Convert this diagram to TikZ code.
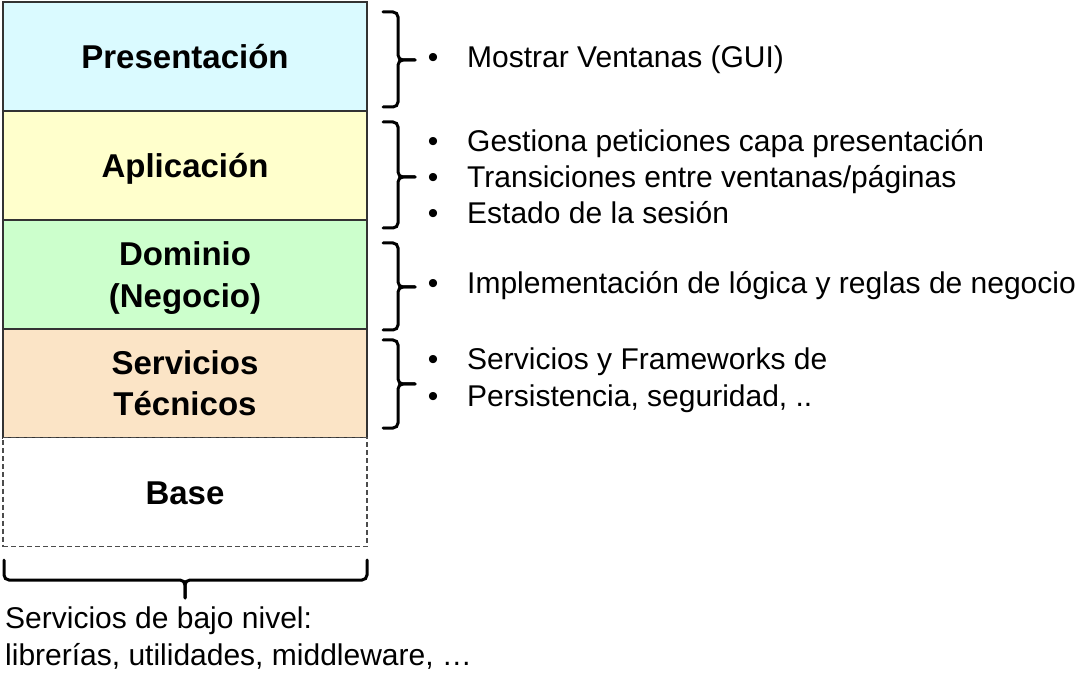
\documentclass[tikz,border=0pt]{standalone}
\usepackage{fontspec}
\setmainfont{Liberation Sans}
\begin{document}
\begin{tikzpicture}[x=1pt,y=-1pt,
  layer/.style={draw=black!80, line width=1.3pt, minimum width=364pt, minimum height=109pt, inner sep=0pt},
  baselayer/.style={layer, draw=black!70, dash pattern=on 5pt off 3pt, line width=1.1pt},
  lbl/.style={anchor=base, inner sep=0pt, font=\fontsize{33}{42}\selectfont\bfseries},
  item/.style={anchor=base west, inner sep=0pt, font=\fontsize{30}{36}\selectfont},
  bul/.style={anchor=base, inner sep=0pt, font=\fontsize{30}{36}\selectfont},
  bracestyle/.style={line width=3pt, line cap=round, rounded corners=5pt}]
\definecolor{cPres}{HTML}{DAFAFF}
\definecolor{cApp}{HTML}{FFFFCC}
\definecolor{cDom}{HTML}{CCFFCC}
\definecolor{cSrv}{HTML}{FBE4C6}
\useasboundingbox (0,0) rectangle (1077,676);
\node[layer, fill=cPres] (pres) at (185,56.5) {};
\node[layer, fill=cApp] (app) at (185,165.5) {};
\node[layer, fill=cDom] (dom) at (185,274.5) {};
\node[layer, fill=cSrv] (srv) at (185,383.5) {};
\node[baselayer, fill=white] (base) at (185,492) {};
\node[lbl] (lpres) at (185,69) {Presentación};
\node[lbl] (lapp) at (185,178) {Aplicación};
\node[lbl] (ldom1) at (185,266) {Dominio};
\node[lbl] (ldom2) at (185,308) {(Negocio)};
\node[lbl] (lsrv1) at (185,375) {Servicios};
\node[lbl] (lsrv2) at (185,416) {Técnicos};
\node[lbl] (lbase) at (185,504) {Base};
% right braces
\newcommand{\mybrace}[4]{%
  \draw[bracestyle] (#1,#2) -- (#1+15,#2) -- (#1+15,#4) -- (#1+32,#4);
  \draw[bracestyle] (#1+32,#4) -- (#1+15,#4) -- (#1+15,#3) -- (#1,#3);}
\mybrace{383}{12}{107}{60}
\mybrace{383}{122}{228}{177}
\mybrace{383}{243}{330}{287}
\mybrace{383}{340}{428}{384}
% bottom brace
\draw[bracestyle] (4,560) -- (4,580) -- (185,580) -- (185,598);
\draw[bracestyle] (185,598) -- (185,580) -- (367,580) -- (367,560);
% items
\node[bul] (b1) at (433,67.5) {•};
\node[item] (t1) at (467,67.5) {Mostrar Ventanas (GUI)};
\node[bul] (b2) at (433,151.5) {•};
\node[item] (t2) at (467,151.5) {Gestiona peticiones capa presentación};
\node[bul] (b3) at (433,187.5) {•};
\node[item] (t3) at (467,187.5) {Transiciones entre ventanas/páginas};
\node[bul] (b4) at (433,223.5) {•};
\node[item] (t4) at (467,223.5) {Estado de la sesión};
\node[bul] (b5) at (433,293.5) {•};
\node[item] (t5) at (467,293.5) {Implementación de lógica y reglas de negocio};
\node[bul] (b6) at (433,369.5) {•};
\node[item] (t6) at (467,369.5) {Servicios y Frameworks de};
\node[bul] (b7) at (433,406.5) {•};
\node[item] (t7) at (467,406.5) {Persistencia, seguridad, ..};
\node[item] (bt1) at (5,628) {Servicios de bajo nivel:};
\node[item] (bt2) at (5,665) {librerías, utilidades, middleware, …};
\end{tikzpicture}
\end{document}
